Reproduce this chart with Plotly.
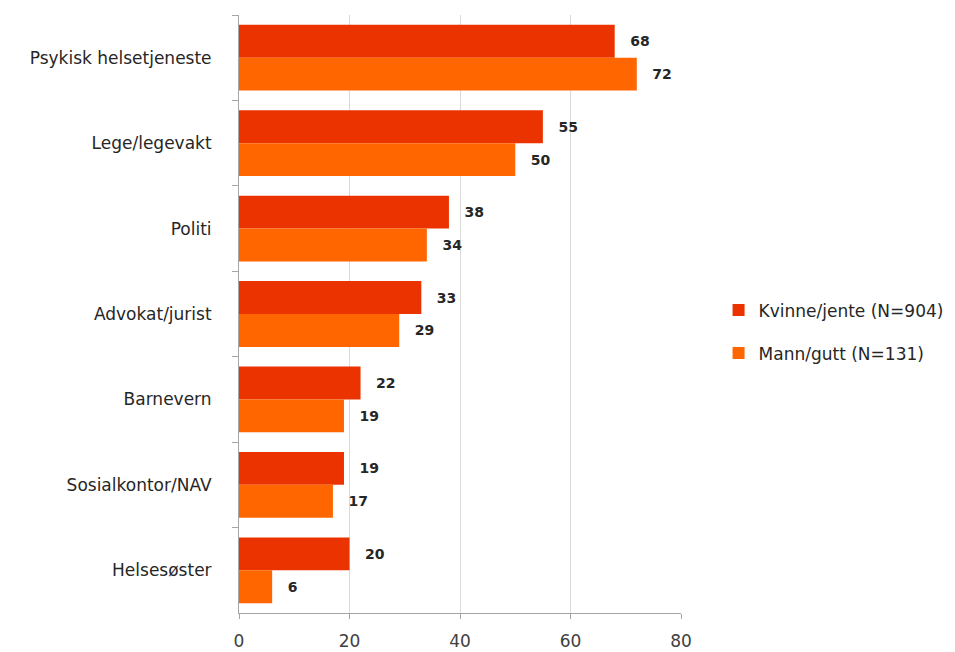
"""Horizontal grouped bar chart: help sources by gender."""

import plotly.graph_objects as go

CATEGORIES = [
    "Psykisk helsetjeneste",
    "Lege/legevakt",
    "Politi",
    "Advokat/jurist",
    "Barnevern",
    "Sosialkontor/NAV",
    "Helsesøster",
]
KVINNE = [68, 55, 38, 33, 22, 19, 20]
MANN = [72, 50, 34, 29, 19, 17, 6]
SERIES_NAMES = ["Kvinne/jente (N=904)", "Mann/gutt (N=131)"]
X_TICKS = [0, 20, 40, 60, 80]

COLORS = ["#EB3300", "#FF6600"]
FONT = "DejaVu Sans, Open Sans, sans-serif"

fig = go.Figure()
for i, (name, vals) in enumerate(zip(SERIES_NAMES, [KVINNE, MANN])):
    fig.add_trace(
        go.Bar(
            y=CATEGORIES,
            x=vals,
            name=name,
            orientation="h",
            marker=dict(color=COLORS[i], line=dict(width=0)),
            text=[f"  \u2009{v}" for v in vals],
            textposition="outside",
            textfont=dict(family=FONT, size=14, color="#262626", weight="bold"),
            cliponaxis=False,
            legendgroup=f"g{i}",
        )
    )

fig.update_layout(
    width=955,
    height=652,
    plot_bgcolor="white",
    paper_bgcolor="white",
    barmode="group",
    bargap=0.23,
    bargroupgap=0,
    margin=dict(l=231, r=282, t=7, b=47),
    font=dict(family=FONT, size=17, color="#262626"),
    legend=dict(
        x=1.085,
        y=0.47,
        xanchor="left",
        yanchor="middle",
        itemwidth=30,
        tracegroupgap=18,
        font=dict(size=17, color="#262626"),
    ),
    showlegend=True,
)
fig.update_xaxes(
    range=[0, 80],
    tickvals=X_TICKS,
    showgrid=True,
    gridcolor="#D9D9D9",
    gridwidth=1,
    showline=True,
    linecolor="#A6A6A6",
    ticks="outside",
    ticklen=5,
    tickcolor="#A6A6A6",
    ticklabelstandoff=8,
    tickfont=dict(size=17, color="#404040"),
    zeroline=False,
)
fig.update_yaxes(
    autorange="reversed",
    showline=True,
    linecolor="#A6A6A6",
    ticks="outside",
    ticklen=6,
    tickcolor="#A6A6A6",
    tickson="boundaries",
    ticklabelstandoff=23,
    tickfont=dict(size=17, color="#262626"),
)

fig.write_html("out.html")
